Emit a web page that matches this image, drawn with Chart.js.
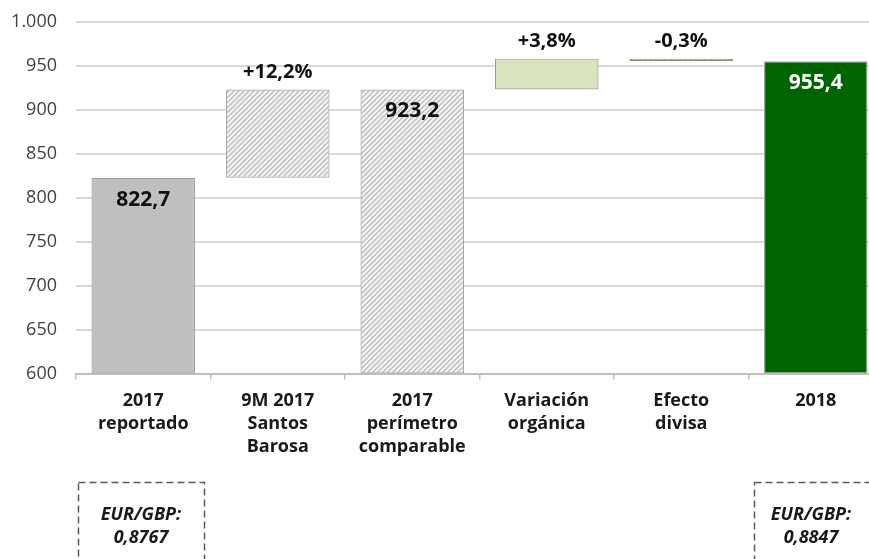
<!DOCTYPE html>
<html>
<head>
<meta charset="utf-8">
<script src="https://cdn.jsdelivr.net/npm/chart.js@4/dist/chart.umd.min.js"></script>
<style>
  html, body { margin: 0; padding: 0; background: #ffffff; width: 869px; height: 559px; overflow: hidden; }
  #wrap { position: absolute; left: 0; top: 0; width: 900px; height: 559px; }
  svg.boxes { position: absolute; left: 0; top: 0; }
  .note { position: absolute; font-family: "Open Sans", sans-serif; font-weight: bold; font-style: italic;
          font-size: 18px; line-height: 23px; color: #1a1a1a; text-align: center; width: 120px; }
</style>
</head>
<body>
<div id="wrap"><canvas id="c" width="900" height="559"></canvas></div>
<svg class="boxes" width="869" height="559">
  <rect x="78.5" y="482.5" width="126" height="120" fill="none" stroke="#595959" stroke-width="1.5" stroke-dasharray="7 4"></rect>
  <rect x="754.5" y="482.5" width="140" height="120" fill="none" stroke="#595959" stroke-width="1.5" stroke-dasharray="7 4"></rect>
</svg>
<div class="note" style="left:81px; top:502px;">EUR/GBP:<br>0,8767</div>
<div class="note" style="left:751px; top:502px;">EUR/GBP:<br>0,8847</div>
<script>
// ---- data ----
const categories = [["2017", "reportado"], ["9M 2017", "Santos", "Barosa"], ["2017", "perímetro", "comparable"], ["Variación", "orgánica"], ["Efecto", "divisa"], ["2018"]];
const barStart = [600, 822.7, 600, 923.2, 955.4, 600];
const barEnd = [822.7, 923.2, 923.2, 958.3, 958.3, 955.4];
const barLabels = ["822,7", "+12,2%", "923,2", "+3,8%", "-0,3%", "955,4"];
const yMin = 600, yMax = 1000, yStep = 50;

function hatch(bg, fg, size, lw) {
  const c = document.createElement('canvas');
  c.width = c.height = size;
  const x = c.getContext('2d');
  x.fillStyle = bg; x.fillRect(0, 0, size, size);
  x.strokeStyle = fg; x.lineWidth = lw;
  x.beginPath();
  x.moveTo(0, size); x.lineTo(size, 0);
  x.moveTo(-size / 2, size / 2); x.lineTo(size / 2, -size / 2);
  x.moveTo(size / 2, size * 1.5); x.lineTo(size * 1.5, size / 2);
  x.stroke();
  return x.createPattern(c, 'repeat');
}
const grayHatch = hatch('#f5f5f5', '#bdbdbd', 5, 1.5);
const greenHatch = hatch('#d7e4bd', '#7d8a5c', 5, 1.8);

const fills = ['#bfbfbf', grayHatch, grayHatch, '#d7e4bd', greenHatch, '#006400'];
const borders = ['#a0a0a0', '#a6a6a6', '#a6a6a6', '#9a9a9a', '#8a9466', '#a0a0a0'];
const labelInside = [true, false, true, false, false, true];
const labelColors = ['#111111', '#111111', '#111111', '#111111', '#111111', '#ffffff'];

const labelPlugin = {
  id: 'barLabels',
  afterDatasetsDraw(chart) {
    const meta = chart.getDatasetMeta(0);
    const ctx = chart.ctx;
    ctx.save();
    ctx.textAlign = 'center';
    ctx.textBaseline = 'middle';
    meta.data.forEach((el, i) => {
      const top = Math.min(el.y, el.base);
      const inside = labelInside[i];
      ctx.font = (inside ? 'bold 21px' : 'bold 20px') + ' "Open Sans", sans-serif';
      ctx.fillStyle = labelColors[i];
      const y = inside ? top + 22 : top - 17;
      ctx.fillText(barLabels[i], el.x, y);
    });
    ctx.restore();
  }
};

new Chart(document.getElementById('c'), {
  type: 'bar',
  data: {
    labels: categories,
    datasets: [{
      data: barStart.map((s, i) => [s, barEnd[i]]),
      backgroundColor: fills,
      borderColor: borders,
      borderWidth: 1.2,
      borderSkipped: false,
      barPercentage: 0.77,
      categoryPercentage: 1
    }]
  },
  options: {
    responsive: false,
    animation: false,
    layout: { padding: { top: 22, right: 17, left: 0, bottom: 0 } },
    plugins: { legend: { display: false }, tooltip: { enabled: false } },
    scales: {
      y: {
        min: yMin, max: yMax,
        border: { display: false },
        grid: { color: '#d9d9d9', lineWidth: 2, drawTicks: false },
        ticks: {
          stepSize: yStep,
          padding: 19,
          color: '#404040',
          font: { family: 'Open Sans', size: 18 },
          callback: v => v >= 1000 ? Math.floor(v / 1000) + '.' + String(v % 1000).padStart(3, '0') : String(v)
        },
        afterFit: s => { s.width = 76; s.paddingTop = 0; s.paddingBottom = 0; }
      },
      x: {
        offset: true,
        border: { display: true, color: '#bfbfbf', width: 2 },
        grid: { drawOnChartArea: false, color: '#bfbfbf', tickLength: 6, lineWidth: 1.5, offset: true },
        ticks: {
          padding: 10,
          color: '#1a1a1a',
          maxRotation: 0,
          autoSkip: false,
          font: { family: 'Open Sans', size: 18, weight: 'bold', lineHeight: 1.28 }
        },
        afterFit: s => { s.height = 185.5; s.paddingLeft = 0; s.paddingRight = 0; }
      }
    }
  },
  plugins: [labelPlugin]
});
</script>
</body>
</html>
